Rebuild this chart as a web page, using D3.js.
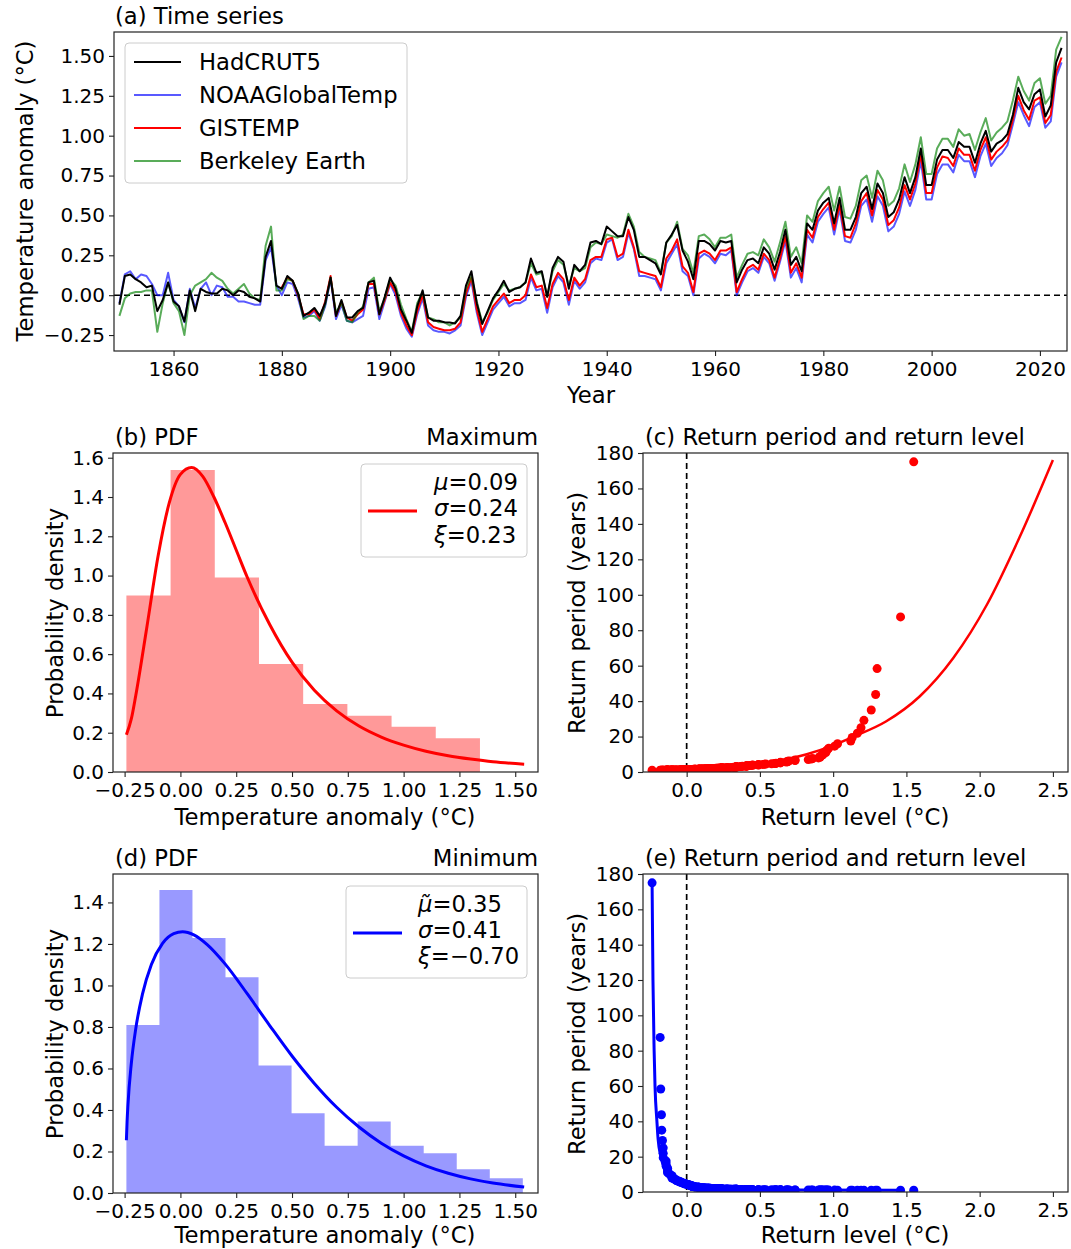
<!DOCTYPE html>
<html>
<head>
<meta charset="utf-8">
<script src="https://cdn.jsdelivr.net/npm/d3@7"></script>
<style>
  body { margin: 0; background: #fff; }
  svg { font-family: "DejaVu Sans", sans-serif; }
</style>
</head>
<body>
<svg id="fig" width="1071" height="1249"></svg>
<script>
// =============================
// Data
// =============================

const years = d3.range(1850, 2025);

const hadcrut5 = [
  -0.06, 0.12, 0.13, 0.10, 0.08, 0.05, 0.06, -0.10, -0.03, 0.08,
  -0.04, -0.07, -0.165, 0.03, -0.10, 0.04, 0.02, 0.01, 0.01, 0.04,
  0.03, 0.00, 0.03, 0.02, -0.01, -0.02, -0.04, 0.24, 0.34, 0.06,
  0.04, 0.12, 0.09, 0.01, -0.13, -0.11, -0.08, -0.13, -0.05, 0.11,
  -0.13, -0.03, -0.14, -0.14, -0.10, -0.08, 0.08, 0.09, -0.12, -0.01,
  0.11, 0.04, -0.09, -0.16, -0.236, -0.07, 0.03, -0.14, -0.16, -0.16,
  -0.17, -0.172, -0.177, -0.13, 0.06, 0.15, -0.05, -0.181, -0.10, -0.02,
  0.03, 0.09, 0.02, 0.04, 0.05, 0.08, 0.23, 0.14, 0.15, -0.01,
  0.17, 0.24, 0.21, 0.04, 0.19, 0.15, 0.19, 0.33, 0.34, 0.32,
  0.43, 0.40, 0.37, 0.37, 0.49, 0.41, 0.24, 0.24, 0.22, 0.20,
  0.13, 0.33, 0.38, 0.44, 0.28, 0.21, 0.10, 0.34, 0.34, 0.32,
  0.28, 0.34, 0.33, 0.34, 0.08, 0.16, 0.22, 0.23, 0.20, 0.30,
  0.26, 0.16, 0.27, 0.41, 0.19, 0.24, 0.15, 0.45, 0.41, 0.53,
  0.58, 0.61, 0.45, 0.61, 0.41, 0.41, 0.49, 0.64, 0.68, 0.54,
  0.70, 0.64, 0.49, 0.52, 0.60, 0.74, 0.64, 0.74, 0.92, 0.69,
  0.69, 0.85, 0.91, 0.91, 0.86, 0.96, 0.93, 0.93, 0.83, 0.95,
  1.03, 0.90, 0.95, 0.97, 1.01, 1.13, 1.30, 1.21, 1.165, 1.26,
  1.29, 1.12, 1.19, 1.46, 1.55
];

const noaa = [
  -0.05, 0.13, 0.15, 0.10, 0.13, 0.12, 0.07, 0.00, 0.00, 0.14,
  -0.03, -0.07, -0.17, 0.04, -0.08, 0.04, 0.08, 0.00, 0.06, 0.05,
  -0.01, -0.01, -0.04, -0.04, -0.05, -0.06, -0.06, 0.22, 0.30, 0.06,
  0.00, 0.08, 0.07, -0.02, -0.14, -0.13, -0.10, -0.16, -0.07, 0.10,
  -0.15, -0.06, -0.16, -0.17, -0.15, -0.13, 0.04, 0.05, -0.15, -0.04,
  0.07, 0.00, -0.13, -0.21, -0.26, -0.12, -0.02, -0.19, -0.22, -0.23,
  -0.23, -0.24, -0.22, -0.19, -0.01, 0.09, -0.11, -0.25, -0.17, -0.09,
  -0.05, -0.01, -0.07, -0.05, -0.05, -0.03, 0.11, 0.03, 0.04, -0.11,
  0.05, 0.12, 0.08, -0.06, 0.09, 0.04, 0.08, 0.20, 0.23, 0.22,
  0.33, 0.35, 0.22, 0.24, 0.39, 0.29, 0.12, 0.12, 0.11, 0.10,
  0.03, 0.20, 0.26, 0.32, 0.15, 0.12, 0.00, 0.23, 0.26, 0.24,
  0.20, 0.26, 0.25, 0.28, 0.00, 0.08, 0.15, 0.17, 0.14, 0.24,
  0.20, 0.09, 0.21, 0.34, 0.11, 0.17, 0.08, 0.38, 0.33, 0.46,
  0.51, 0.55, 0.38, 0.54, 0.34, 0.33, 0.41, 0.56, 0.60, 0.46,
  0.62, 0.56, 0.40, 0.43, 0.51, 0.65, 0.56, 0.66, 0.84, 0.60,
  0.60, 0.76, 0.82, 0.82, 0.77, 0.88, 0.84, 0.84, 0.74, 0.87,
  0.95, 0.81, 0.86, 0.89, 0.94, 1.07, 1.21, 1.13, 1.06, 1.18,
  1.21, 1.05, 1.09, 1.37, 1.46
];

const gistemp = [
  null, null, null, null, null, null, null, null, null, null,
  null, null, null, null, null, null, null, null, null, null,
  null, null, null, null, null, null, null, null, null, null,
  0.05, 0.11, 0.09, 0.00, -0.12, -0.12, -0.09, -0.15, -0.04, 0.12,
  -0.13, -0.04, -0.14, -0.16, -0.12, -0.09, 0.07, 0.07, -0.12, -0.03,
  0.08, 0.02, -0.11, -0.19, -0.25, -0.10, 0.00, -0.17, -0.20, -0.21,
  -0.22, -0.22, -0.21, -0.17, 0.01, 0.11, -0.09, -0.23, -0.15, -0.07,
  -0.03, 0.01, -0.05, -0.03, -0.03, 0.00, 0.13, 0.05, 0.06, -0.08,
  0.07, 0.14, 0.10, -0.03, 0.11, 0.06, 0.10, 0.22, 0.24, 0.24,
  0.35, 0.36, 0.24, 0.26, 0.41, 0.30, 0.15, 0.14, 0.13, 0.12,
  0.05, 0.23, 0.28, 0.35, 0.18, 0.14, 0.02, 0.26, 0.28, 0.26,
  0.22, 0.28, 0.28, 0.30, 0.02, 0.10, 0.17, 0.19, 0.16, 0.26,
  0.22, 0.11, 0.23, 0.37, 0.14, 0.20, 0.11, 0.41, 0.36, 0.49,
  0.54, 0.58, 0.41, 0.57, 0.37, 0.36, 0.45, 0.59, 0.64, 0.50,
  0.66, 0.60, 0.44, 0.47, 0.55, 0.69, 0.60, 0.70, 0.88, 0.64,
  0.64, 0.80, 0.87, 0.86, 0.81, 0.92, 0.88, 0.88, 0.78, 0.91,
  0.99, 0.85, 0.90, 0.93, 0.97, 1.10, 1.25, 1.16, 1.10, 1.22,
  1.24, 1.08, 1.13, 1.40, 1.49
];

const berkeley = [
  -0.13, -0.02, 0.01, 0.02, 0.02, 0.03, 0.03, -0.23, -0.05, 0.08,
  -0.05, -0.10, -0.25, 0.00, 0.06, 0.08, 0.10, 0.14, 0.11, 0.09,
  0.04, 0.01, 0.04, 0.07, 0.01, -0.02, -0.03, 0.31, 0.43, 0.03,
  0.03, 0.10, 0.09, 0.01, -0.15, -0.13, -0.13, -0.16, -0.06, 0.11,
  -0.11, -0.05, -0.16, -0.17, -0.11, -0.07, 0.08, 0.11, -0.10, -0.02,
  0.10, 0.06, -0.06, -0.15, -0.23, -0.05, 0.02, -0.14, -0.15, -0.17,
  -0.17, -0.19, -0.17, -0.14, 0.04, 0.12, -0.04, -0.17, -0.11, -0.03,
  0.02, 0.07, 0.03, 0.04, 0.05, 0.08, 0.20, 0.13, 0.14, -0.01,
  0.15, 0.22, 0.19, 0.06, 0.17, 0.15, 0.17, 0.30, 0.33, 0.32,
  0.38, 0.37, 0.36, 0.38, 0.51, 0.43, 0.27, 0.24, 0.23, 0.22,
  0.14, 0.33, 0.37, 0.46, 0.29, 0.25, 0.14, 0.37, 0.38, 0.35,
  0.30, 0.36, 0.36, 0.38, 0.11, 0.19, 0.26, 0.27, 0.25, 0.35,
  0.30, 0.21, 0.33, 0.46, 0.24, 0.30, 0.20, 0.50, 0.46, 0.59,
  0.64, 0.68, 0.53, 0.68, 0.49, 0.48, 0.56, 0.72, 0.75, 0.61,
  0.78, 0.72, 0.56, 0.59, 0.67, 0.82, 0.71, 0.82, 0.99, 0.76,
  0.76, 0.92, 0.98, 0.98, 0.93, 1.04, 1.00, 1.01, 0.91, 1.02,
  1.11, 0.97, 1.02, 1.05, 1.09, 1.22, 1.37, 1.28, 1.22, 1.33,
  1.36, 1.20, 1.25, 1.54, 1.62
];

// histogram of the maxima (panel b)
const maxBinEdges = [-0.242, -0.044, 0.154, 0.352, 0.550, 0.748, 0.946, 1.144, 1.342];
const maxDensity = [0.898, 1.538, 0.990, 0.550, 0.346, 0.287, 0.231, 0.172];

// GEV fit of the maxima
const maxPdfX = [-0.242, -0.22, -0.2, -0.15, -0.1, -0.05, 0, 0.05, 0.1, 0.15, 0.2, 0.25, 0.3,
  0.4, 0.5, 0.6, 0.7, 0.8, 0.9, 1.0, 1.1, 1.2, 1.3, 1.4, 1.54];
const maxPdfY = [0.19, 0.27, 0.39, 0.74, 1.10, 1.37, 1.515, 1.55, 1.505, 1.40, 1.27, 1.13, 0.99,
  0.751, 0.559, 0.416, 0.311, 0.234, 0.178, 0.137, 0.106, 0.083, 0.066, 0.052, 0.04];

// histogram of the minima (panel d)
const minBinEdges = [-0.242, -0.094, 0.054, 0.202, 0.350, 0.498, 0.646, 0.794, 0.942,
  1.090, 1.238, 1.386, 1.534];
const minDensity = [0.81, 1.46, 1.229, 1.04, 0.614, 0.384, 0.228, 0.344, 0.228, 0.191, 0.114, 0.071];

const minPdfX = [-0.242, -0.239, -0.235, -0.22, -0.2, -0.17, -0.13, -0.08, -0.03, 0.01, 0.06, 0.12,
  0.2, 0.3, 0.4, 0.5, 0.6, 0.7, 0.8, 0.9, 1.0, 1.1, 1.2, 1.3, 1.4, 1.54];
const minPdfY = [0.254, 0.342, 0.425, 0.624, 0.792, 0.958, 1.101, 1.203, 1.250, 1.259, 1.244, 1.197,
  1.104, 0.959, 0.807, 0.660, 0.528, 0.413, 0.318, 0.240, 0.179, 0.131, 0.095, 0.068, 0.048, 0.029];

// return level curves
const retMaxLevel = [-0.21, -0.10, 0.07, 0.19, 0.34, 0.53, 0.82, 1.00, 1.14, 1.36, 1.59, 1.82, 2.05, 2.27, 2.50];
const retMaxPeriod = [1.02, 1.1, 1.5, 2, 3, 5, 10, 15, 20, 28.5, 42.6, 64.3, 94.5, 132, 176];

const retMinLevel = [-0.236, -0.230, -0.222, -0.216, -0.203, -0.195, -0.176, -0.159, -0.128, -0.091,
  -0.045, 0.062, 0.205, 0.378, 0.83, 1.46];
const retMinPeriod = [175, 120, 80, 60, 40, 30, 20, 15, 10, 7, 5, 3, 2, 1.5, 1.1, 1.01];

const seriesNames = ["HadCRUT5", "NOAAGlobalTemp", "GISTEMP", "Berkeley Earth"];

// =============================
// Helpers
// =============================

const svg = d3.select("#fig");
const TICK_FONT = 20;
const LABEL_FONT = 22.7;
let clipCount = 0;

function makePanel(box, xDomain, yDomain) {
  const x = d3.scaleLinear().domain(xDomain).range([box.left, box.right]);
  const y = d3.scaleLinear().domain(yDomain).range([box.bottom, box.top]);
  const id = "clip" + (clipCount++);
  svg.append("clipPath").attr("id", id)
    .append("rect")
    .attr("x", box.left).attr("y", box.top)
    .attr("width", box.right - box.left).attr("height", box.bottom - box.top);
  const g = svg.append("g");
  const plot = g.append("g").attr("clip-path", `url(#${id})`);
  return { box, x, y, g, plot };
}

function drawAxes(p, xTicks, xFmt, yTicks, yFmt) {
  const b = p.box;
  const xa = p.g.append("g")
    .attr("transform", `translate(0,${b.bottom})`)
    .call(d3.axisBottom(p.x).tickValues(xTicks).tickFormat(xFmt).tickSize(5).tickPadding(6));
  const ya = p.g.append("g")
    .attr("transform", `translate(${b.left},0)`)
    .call(d3.axisLeft(p.y).tickValues(yTicks).tickFormat(yFmt).tickSize(5).tickPadding(4));

  [xa, ya].forEach(a => {
    a.attr("font-size", TICK_FONT).attr("font-family", null);
    a.select(".domain").remove();
    a.selectAll("line").attr("stroke", "#222").attr("stroke-width", 1.1);
    a.selectAll("text").attr("fill", "#000");
  });

  p.g.append("rect")
    .attr("x", b.left).attr("y", b.top)
    .attr("width", b.right - b.left).attr("height", b.bottom - b.top)
    .attr("fill", "none")
    .attr("stroke", "#222")
    .attr("stroke-width", 1.2);
}

function label(x, y, str, anchor = "middle", size = LABEL_FONT) {
  return svg.append("text")
    .attr("x", x).attr("y", y)
    .attr("text-anchor", anchor)
    .attr("font-size", size)
    .attr("fill", "#000")
    .text(str);
}

function yLabel(cx, cy, str) {
  svg.append("text")
    .attr("transform", `translate(${cx},${cy}) rotate(-90)`)
    .attr("text-anchor", "middle")
    .attr("dominant-baseline", "central")
    .attr("font-size", LABEL_FONT)
    .attr("fill", "#000")
    .text(str);
}

function legendBox(x, y, w, h) {
  svg.append("rect")
    .attr("x", x).attr("y", y)
    .attr("width", w).attr("height", h)
    .attr("rx", 4)
    .attr("fill", "#fff")
    .attr("fill-opacity", 0.8)
    .attr("stroke", "#cccccc")
    .attr("stroke-width", 1);
}

// histogram as one stepped area, so adjacent bars show no seams
function histogram(p, edges, density, color) {
  const pts = edges.map((e, i) => [e, i < density.length ? density[i] : density[density.length - 1]]);
  p.plot.append("path")
    .datum(pts)
    .attr("d", d3.area().curve(d3.curveStepAfter)
      .x(d => p.x(d[0])).y0(p.y(0)).y1(d => p.y(d[1])))
    .attr("fill", color)
    .attr("fill-opacity", 0.4);
}

function paramText(x, y, sym, value) {
  const t = svg.append("text")
    .attr("x", x).attr("y", y)
    .attr("font-size", LABEL_FONT)
    .attr("fill", "#000");
  t.append("tspan").attr("font-style", "italic").text(sym);
  t.append("tspan").text("=" + value);
}

const f2 = d3.format(".2f");
const f1 = d3.format(".1f");

// =============================
// (a) Time series
// =============================

const pa = makePanel({ left: 114, top: 32, right: 1067, bottom: 351 }, [1849, 2025], [-0.35, 1.65]);
drawAxes(pa, d3.range(1860, 2021, 20), d3.format("d"),
  [-0.25, 0, 0.25, 0.5, 0.75, 1.0, 1.25, 1.5], f2);

pa.plot.append("line")
  .attr("x1", pa.box.left).attr("x2", pa.box.right)
  .attr("y1", pa.y(0)).attr("y2", pa.y(0))
  .attr("stroke", "#000")
  .attr("stroke-width", 1.5)
  .attr("stroke-dasharray", "6,4");

const series = [
  { name: seriesNames[1], values: noaa, color: "#0000ff", opacity: 0.65 },
  { name: seriesNames[2], values: gistemp, color: "#ff0000", opacity: 1 },
  { name: seriesNames[3], values: berkeley, color: "#008000", opacity: 0.65 },
  { name: seriesNames[0], values: hadcrut5, color: "#000000", opacity: 1 }
];

const tsLine = d3.line()
  .defined(d => d[1] != null)
  .x(d => pa.x(d[0]))
  .y(d => pa.y(d[1]));

series.forEach(s => {
  pa.plot.append("path")
    .datum(years.map((yr, i) => [yr, s.values[i]]))
    .attr("d", tsLine)
    .attr("fill", "none")
    .attr("stroke", s.color)
    .attr("stroke-opacity", s.opacity)
    .attr("stroke-width", 2)
    .attr("stroke-linejoin", "round");
});

label(115, 24, "(a) Time series", "start");
label(591, 403, "Year");
yLabel(25, 191, "Temperature anomaly (°C)");

// legend
legendBox(125, 43, 282, 140);
const legendOrder = [series[3], series[0], series[1], series[2]];
legendOrder.forEach((s, i) => {
  const ly = 62 + i * 33;
  svg.append("line")
    .attr("x1", 134).attr("x2", 181)
    .attr("y1", ly).attr("y2", ly)
    .attr("stroke", s.color)
    .attr("stroke-opacity", s.opacity)
    .attr("stroke-width", 2);
  label(199, ly + 8, s.name, "start");
});

// =============================
// (b) PDF of maxima
// =============================

const pb = makePanel({ left: 113, top: 453, right: 538, bottom: 772 }, [-0.302, 1.602], [0, 1.624]);

histogram(pb, maxBinEdges, maxDensity, "#ff0000");

pb.plot.append("path")
  .datum(maxPdfX.map((v, i) => [v, maxPdfY[i]]))
  .attr("d", d3.line().curve(d3.curveMonotoneX).x(d => pb.x(d[0])).y(d => pb.y(d[1])))
  .attr("fill", "none")
  .attr("stroke", "#ff0000")
  .attr("stroke-width", 3);

drawAxes(pb, [-0.25, 0, 0.25, 0.5, 0.75, 1.0, 1.25, 1.5], f2,
  [0, 0.2, 0.4, 0.6, 0.8, 1.0, 1.2, 1.4, 1.6], f1);

label(115, 445, "(b) PDF", "start");
label(538, 445, "Maximum", "end");
label(325, 825, "Temperature anomaly (°C)");
yLabel(55, 613, "Probability density");

legendBox(361, 464, 166, 93);
svg.append("line")
  .attr("x1", 368).attr("x2", 417).attr("y1", 511).attr("y2", 511)
  .attr("stroke", "#ff0000").attr("stroke-width", 3);
paramText(434, 490, "μ", "0.09");
paramText(434, 516, "σ", "0.24");
paramText(434, 543, "ξ", "0.23");

// =============================
// (c) Return period, maxima
// =============================

const pc = makePanel({ left: 643, top: 453, right: 1068, bottom: 772 }, [-0.298, 2.603], [0, 180]);
const n = hadcrut5.length;
const sortedDesc = d3.sort(hadcrut5, (a, b) => b - a);
const sortedAsc = d3.sort(hadcrut5, (a, b) => a - b);

pc.plot.append("line")
  .attr("x1", pc.x(0)).attr("x2", pc.x(0))
  .attr("y1", pc.box.top).attr("y2", pc.box.bottom)
  .attr("stroke", "#000").attr("stroke-width", 1.7).attr("stroke-dasharray", "6,4");

pc.plot.append("path")
  .datum(retMaxLevel.map((v, i) => [v, retMaxPeriod[i]]))
  .attr("d", d3.line().curve(d3.curveMonotoneX).x(d => pc.x(d[0])).y(d => pc.y(d[1])))
  .attr("fill", "none")
  .attr("stroke", "#ff0000")
  .attr("stroke-width", 2.5);

pc.plot.selectAll("circle")
  .data(sortedDesc)
  .enter()
  .append("circle")
  .attr("cx", d => pc.x(d))
  .attr("cy", (d, i) => pc.y(n / (i + 1)))
  .attr("r", 4.5)
  .attr("fill", "#ff0000");

drawAxes(pc, [0, 0.5, 1.0, 1.5, 2.0, 2.5], f1, d3.range(0, 181, 20), d3.format("d"));

label(645, 445, "(c) Return period and return level", "start");
label(855, 825, "Return level (°C)");
yLabel(577, 613, "Return period (years)");

// =============================
// (d) PDF of minima
// =============================

const pd = makePanel({ left: 113, top: 874, right: 538, bottom: 1193 }, [-0.302, 1.602], [0, 1.537]);

histogram(pd, minBinEdges, minDensity, "#0000ff");

pd.plot.append("path")
  .datum(minPdfX.map((v, i) => [v, minPdfY[i]]))
  .attr("d", d3.line().curve(d3.curveMonotoneX).x(d => pd.x(d[0])).y(d => pd.y(d[1])))
  .attr("fill", "none")
  .attr("stroke", "#0000ff")
  .attr("stroke-width", 3);

drawAxes(pd, [-0.25, 0, 0.25, 0.5, 0.75, 1.0, 1.25, 1.5], f2,
  [0, 0.2, 0.4, 0.6, 0.8, 1.0, 1.2, 1.4], f1);

label(115, 866, "(d) PDF", "start");
label(538, 866, "Minimum", "end");
label(325, 1243, "Temperature anomaly (°C)");
yLabel(55, 1034, "Probability density");

legendBox(346, 886, 181, 92);
svg.append("line")
  .attr("x1", 353).attr("x2", 402).attr("y1", 933).attr("y2", 933)
  .attr("stroke", "#0000ff").attr("stroke-width", 3);
paramText(418, 912, "μ\u0303", "0.35");
paramText(418, 938, "σ", "0.41");
paramText(418, 964, "ξ", "\u22120.70");

// =============================
// (e) Return period, minima
// =============================

const pe = makePanel({ left: 643, top: 874, right: 1068, bottom: 1192 }, [-0.298, 2.603], [0, 180]);

pe.plot.append("line")
  .attr("x1", pe.x(0)).attr("x2", pe.x(0))
  .attr("y1", pe.box.top).attr("y2", pe.box.bottom)
  .attr("stroke", "#000").attr("stroke-width", 1.7).attr("stroke-dasharray", "6,4");

pe.plot.append("path")
  .datum(retMinLevel.map((v, i) => [v, retMinPeriod[i]]))
  .attr("d", d3.line().curve(d3.curveMonotoneX).x(d => pe.x(d[0])).y(d => pe.y(d[1])))
  .attr("fill", "none")
  .attr("stroke", "#0000ff")
  .attr("stroke-width", 3);

pe.plot.selectAll("circle")
  .data(sortedAsc)
  .enter()
  .append("circle")
  .attr("cx", d => pe.x(d))
  .attr("cy", (d, i) => pe.y(n / (i + 1)))
  .attr("r", 4.5)
  .attr("fill", "#0000ff");

drawAxes(pe, [0, 0.5, 1.0, 1.5, 2.0, 2.5], f1, d3.range(0, 181, 20), d3.format("d"));

label(645, 866, "(e) Return period and return level", "start");
label(855, 1243, "Return level (°C)");
yLabel(577, 1034, "Return period (years)");
</script>
</body>
</html>
